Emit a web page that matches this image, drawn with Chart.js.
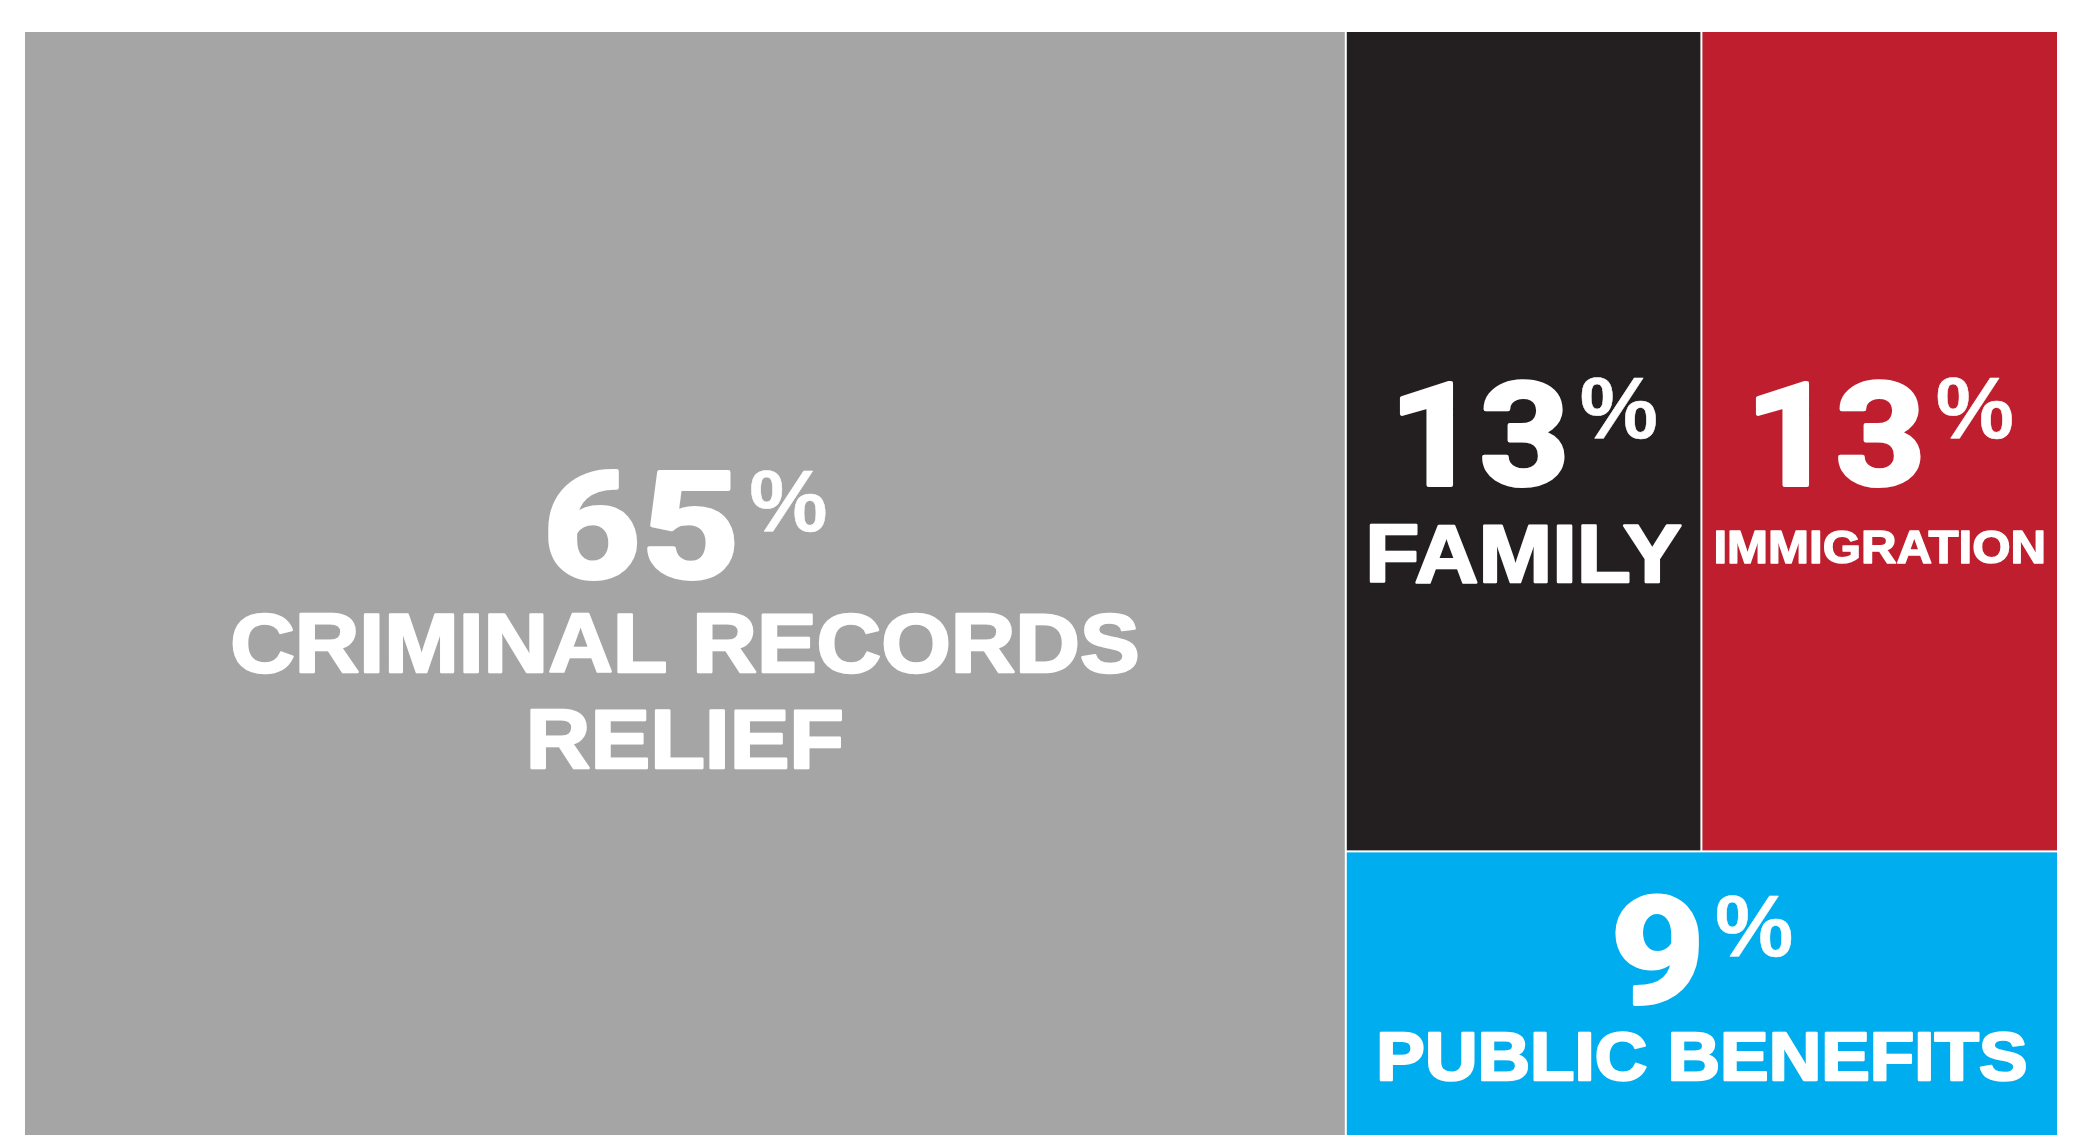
<!DOCTYPE html>
<html>
<head>
<meta charset="utf-8">
<script src="https://cdn.jsdelivr.net/npm/chart.js@4.4.1/dist/chart.umd.min.js"></script>
<style>
    html, body { margin: 0; padding: 0; background: #ffffff; }
    #wrap { width: 2084px; height: 1135px; position: relative; }
</style>
</head>
<body>
<div id="wrap"><canvas id="treeChart"></canvas></div>
<script>
// Share of cases by practice area (%)
const categories = ['CRIMINAL RECORDS RELIEF', 'FAMILY', 'IMMIGRATION', 'PUBLIC BENEFITS'];
const shares = [65, 13, 13, 9];
const valueLabels = ['65', '13', '13', '9'];
const labelLines = [['CRIMINAL RECORDS', 'RELIEF'], ['FAMILY'], ['IMMIGRATION'], ['PUBLIC BENEFITS']];
const cellColors = ['#a5a5a5', '#231f20', '#be1e2d', '#00aeef'];

// Text styling per cell (sizes in px, baseline as fraction of cell height)
const textStyles = [
    { num: 148, numScale: 1.16, numY: 0.495, label: 84, labelScale: 1.065, offsets: [94, 190] },
    { num: 143, numScale: 1.1, numY: 0.553, label: 82, labelScale: 1.08, offsets: [97] },
    { num: 143, numScale: 1.1, numY: 0.553, label: 46, labelScale: 1.07, offsets: [78] },
    { num: 148, numScale: 1.11, numY: 0.533, label: 69, labelScale: 1.055, offsets: [77] }
];
const FONT = "'Liberation Sans', Arial, sans-serif";
const NUM_FONT = "Roboto, 'Liberation Sans', sans-serif";
const GAP = 1;

// d3-style squarified layout (golden ratio), aspect = px per y unit / px per x unit
function squarify(values, x0, y0, x1, y1, aspect) {
    const ratio = (1 + Math.sqrt(5)) / 2;
    const rects = [];
    const n = values.length;
    let value = values.reduce((a, b) => a + b, 0);
    let i0 = 0;
    while (i0 < n) {
        const dx = x1 - x0, dy = (y1 - y0) * aspect;
        let i1 = i0;
        let sum = values[i1++];
        let minV = sum, maxV = sum;
        const alpha = Math.max(dy / dx, dx / dy) / (value * ratio);
        let beta = sum * sum * alpha;
        let minRatio = Math.max(maxV / beta, beta / minV);
        for (; i1 < n; i1++) {
            const v = values[i1];
            sum += v;
            if (v < minV) minV = v;
            if (v > maxV) maxV = v;
            beta = sum * sum * alpha;
            const r = Math.max(maxV / beta, beta / minV);
            if (r > minRatio) { sum -= v; break; }
            minRatio = r;
        }
        if (dx < dy) {
            const yEnd = y0 + (y1 - y0) * sum / value;
            let xx = x0;
            for (let i = i0; i < i1; i++) {
                const w = (x1 - x0) * values[i] / sum;
                rects[i] = { x0: xx, x1: xx + w, y0: y0, y1: yEnd };
                xx += w;
            }
            y0 = yEnd;
        } else {
            const xEnd = x0 + (x1 - x0) * sum / value;
            let yy = y0;
            for (let i = i0; i < i1; i++) {
                const h = (y1 - y0) * values[i] / sum;
                rects[i] = { x0: x0, x1: xEnd, y0: yy, y1: yy + h };
                yy += h;
            }
            x0 = xEnd;
        }
        value -= sum;
        i0 = i1;
    }
    return rects;
}

function drawText(ctx, text, x, y, sx, align) {
    ctx.save();
    ctx.translate(x, y);
    ctx.scale(sx, 1);
    ctx.textAlign = align;
    ctx.fillText(text, 0, 0);
    ctx.strokeText(text, 0, 0);
    ctx.restore();
}

const treemapPlugin = {
    id: 'treemapCells',
    beforeDatasetsDraw(chart) {
        const ctx = chart.ctx;
        const xs = chart.scales.x, ys = chart.scales.y;
        const area = chart.chartArea;
        const aspect = (area.bottom - area.top) / (area.right - area.left);
        const rects = squarify(shares, xs.min, ys.min, xs.max, ys.max, aspect);

        rects.forEach((r, i) => {
            let left = xs.getPixelForValue(r.x0), right = xs.getPixelForValue(r.x1);
            let top = ys.getPixelForValue(r.y0), bottom = ys.getPixelForValue(r.y1);
            if (left > area.left + 1) left += GAP;
            if (right < area.right - 1) right -= GAP;
            if (top > area.top + 1) top += GAP;
            if (bottom < area.bottom - 1) bottom -= GAP;

            ctx.save();
            ctx.fillStyle = cellColors[i];
            ctx.fillRect(left, top, right - left, bottom - top);

            const st = textStyles[i];
            const cx = (left + right) / 2;
            const base = top + (bottom - top) * st.numY;
            ctx.fillStyle = '#ffffff';
            ctx.strokeStyle = '#ffffff';
            ctx.lineJoin = 'round';
            ctx.textBaseline = 'alphabetic';

            // number with raised percent sign
            const pctSize = 88, pctGap = 10;
            ctx.font = 'bold ' + st.num + 'px ' + NUM_FONT;
            ctx.lineWidth = 4;
            const numW = ctx.measureText(valueLabels[i]).width * st.numScale;
            ctx.font = 'bold ' + pctSize + 'px ' + FONT;
            const pctW = ctx.measureText('%').width;
            const startX = cx - (numW + pctGap + pctW) / 2;
            ctx.font = 'bold ' + st.num + 'px ' + NUM_FONT;
            drawText(ctx, valueLabels[i], startX, base, st.numScale, 'left');
            ctx.font = 'bold ' + pctSize + 'px ' + FONT;
            ctx.lineWidth = 0.5;
            drawText(ctx, '%', startX + numW + pctGap, base - 47, 1, 'left');

            // category label lines
            ctx.font = 'bold ' + st.label + 'px ' + FONT;
            ctx.lineWidth = st.label > 60 ? 2.5 : 1.5;
            labelLines[i].forEach((line, k) => {
                drawText(ctx, line, cx, base + st.offsets[k], st.labelScale, 'center');
            });
            ctx.restore();
        });
    }
};

new Chart(document.getElementById('treeChart'), {
    type: 'scatter',
    data: {
        labels: categories,
        datasets: [{ label: 'Share', data: [] }]
    },
    options: {
        responsive: true,
        maintainAspectRatio: false,
        animation: false,
        layout: { padding: { left: 25, right: 27, top: 32, bottom: 0 } },
        scales: {
            x: { type: 'linear', min: 0, max: 100, display: false },
            y: { type: 'linear', min: 0, max: 100, reverse: true, display: false }
        },
        plugins: {
            legend: { display: false },
            tooltip: { enabled: false }
        }
    },
    plugins: [treemapPlugin]
});
</script>
</body>
</html>
